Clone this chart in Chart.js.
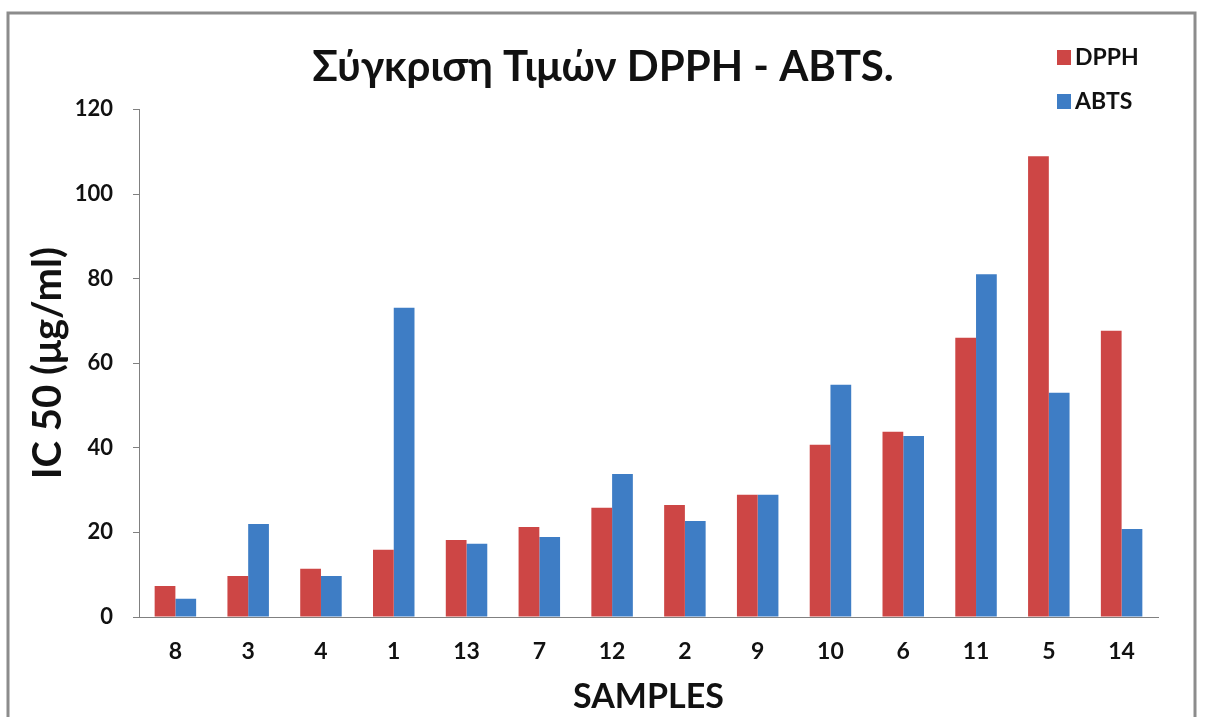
<!DOCTYPE html>
<html>
<head>
<meta charset="utf-8">
<script src="https://cdn.jsdelivr.net/npm/chart.js@4/dist/chart.umd.min.js"></script>
<style>
  html, body { margin: 0; padding: 0; background: #ffffff; }
  #wrap { position: relative; width: 1206px; height: 717px; }
  canvas { display: block; }
</style>
</head>
<body>
<div id="wrap"><canvas id="c" width="1206" height="717"></canvas></div>
<script>
// Sample identifiers, ordered as on the horizontal axis
const samples = ['8', '3', '4', '1', '13', '7', '12', '2', '9', '10', '6', '11', '5', '14'];

// IC50 values (μg/ml) for each assay
const dpphValues = [7.3, 9.7, 11.4, 15.9, 18.2, 21.3, 25.8, 26.5, 28.9, 40.7, 43.8, 66.0, 108.9, 67.7];
const abtsValues = [4.3, 22.0, 9.7, 73.1, 17.3, 18.9, 33.8, 22.7, 28.9, 54.9, 42.8, 81.0, 53.0, 20.8];

// Value-axis tick labels
const yTickValues = [0, 20, 40, 60, 80, 100, 120];

const chartTitle = 'Σύγκριση Τιμών DPPH - ABTS.';
const yTitle = 'IC 50 (μg/ml)';
const xTitle = 'SAMPLES';

const RED = '#cd4645';
const BLUE = '#3e7dc5';
const FONT = 'Lato, "Open Sans", sans-serif';

// Outer frame around the whole chart
const framePlugin = {
  id: 'frame',
  beforeDraw(chart) {
    const ctx = chart.ctx;
    ctx.save();
    ctx.fillStyle = '#ffffff';
    ctx.fillRect(0, 0, chart.width, chart.height);
    ctx.strokeStyle = '#8c8c8c';
    ctx.lineWidth = 3;
    ctx.strokeRect(8, 13, 1187, 740);
    ctx.restore();
  }
};

// Vertical legend in the top-right corner, built from the datasets
const sideLegend = {
  id: 'sideLegend',
  afterDraw(chart) {
    const ctx = chart.ctx;
    ctx.save();
    ctx.font = 'bold 23px ' + FONT;
    ctx.textBaseline = 'middle';
    ctx.textAlign = 'left';
    chart.data.datasets.forEach((ds, i) => {
      const y = 57 + i * 44;
      ctx.fillStyle = ds.backgroundColor;
      ctx.fillRect(1057, y - 7, 14, 15);
      ctx.fillStyle = '#111111';
      ctx.fillText(ds.label, 1075, y + 1);
    });
    ctx.restore();
  }
};

new Chart(document.getElementById('c'), {
  type: 'bar',
  data: {
    labels: samples,
    datasets: [
      { label: 'DPPH', data: dpphValues, backgroundColor: RED, borderWidth: 0 },
      { label: 'ABTS', data: abtsValues, backgroundColor: BLUE, borderWidth: 0 }
    ]
  },
  options: {
    responsive: false,
    animation: false,
    devicePixelRatio: 1,
    layout: { padding: 0 },
    datasets: {
      bar: { categoryPercentage: 0.57, barPercentage: 1.0 }
    },
    plugins: {
      legend: { display: false },
      tooltip: { enabled: false },
      title: {
        display: true,
        text: chartTitle,
        color: '#111111',
        font: { family: FONT, size: 42, weight: 'bold' },
        padding: { top: 42, bottom: 17 }
      }
    },
    scales: {
      x: {
        grid: { display: false, drawTicks: false },
        border: { display: true, color: '#808080', width: 1 },
        ticks: {
          color: '#111111',
          font: { family: FONT, size: 23, weight: 'bold' },
          padding: 21,
          maxRotation: 0
        },
        title: {
          display: true,
          text: xTitle,
          color: '#111111',
          font: { family: FONT, size: 34, weight: 'bold' },
          padding: { top: 0, bottom: 0 }
        },
        afterFit(scale) { scale.height = 100; }
      },
      y: {
        min: 0,
        max: 120,
        afterBuildTicks(scale) { scale.ticks = yTickValues.map(v => ({ value: v })); },
        grid: { display: true, drawOnChartArea: false, drawTicks: true, tickLength: 6, color: '#808080' },
        border: { display: true, color: '#808080', width: 1 },
        ticks: {
          color: '#111111',
          font: { family: FONT, size: 22, weight: 'bold' },
          padding: 20
        },
        title: {
          display: true,
          text: yTitle,
          color: '#111111',
          font: { family: FONT, size: 40, weight: 'bold' },
          padding: { top: 24, bottom: 0 }
        },
        afterFit(scale) { scale.width = 139; }
      },
      // empty right-hand margin so the plot ends short of the frame
      margin: {
        type: 'linear',
        position: 'right',
        display: true,
        grid: { display: false, drawTicks: false },
        border: { display: false },
        ticks: { display: false },
        afterFit(scale) { scale.width = 48; }
      }
    }
  },
  plugins: [framePlugin, sideLegend]
});
</script>
</body>
</html>
